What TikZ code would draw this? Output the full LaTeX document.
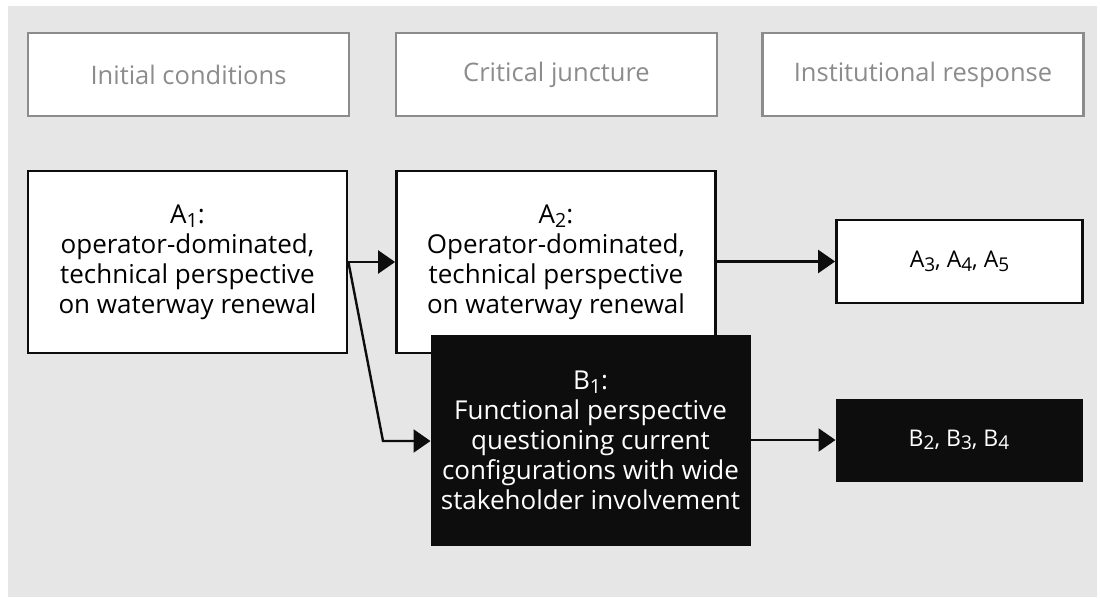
\documentclass[tikz,border=0pt]{standalone}
\usepackage{fontspec}
\setmainfont{Open Sans}
\usetikzlibrary{arrows.meta}
\definecolor{panel}{HTML}{E6E6E6}
\definecolor{hdrgray}{HTML}{8C8C8C}
\definecolor{boxblack}{HTML}{0D0D0D}
\newcommand{\mysub}[1]{\raisebox{-0.3ex}{\fontsize{19.5}{19.5}\selectfont #1}}
\newcommand{\smsub}[1]{\raisebox{-0.3ex}{\fontsize{19}{19}\selectfont #1}}
\newcommand{\smtext}{\fontsize{23}{26}\selectfont}
\tikzset{
  hdr/.style={draw=hdrgray, line width=2.4pt, fill=white, text=hdrgray, minimum width=321pt, minimum height=83pt, inner sep=0pt, font=\fontsize{25.5}{30}\selectfont},
  wbox/.style={draw=boxblack, line width=2.8pt, fill=white, text=black, inner sep=0pt, align=center, font=\fontsize{26}{30}\selectfont},
  bbox/.style={draw=boxblack, line width=1pt, fill=boxblack, text=white, inner sep=0pt, align=center, font=\fontsize{26}{30}\selectfont},
  arr/.style={line width=2.4pt, draw=boxblack, -{Triangle[length=17pt,width=23pt]}}
}
\begin{document}
\begin{tikzpicture}[x=1pt,y=-1pt]
\useasboundingbox (0,0) rectangle (1100,597);
\fill[white] (0,0) rectangle (1100,597);
\fill[panel] (8,6) rectangle (1097,597);
\node[hdr] (h1) at (188.5,74.5) {Initial conditions};
\node[hdr] (h2) at (556.5,74.5) {Critical juncture};
\node[hdr] (h3) at (923,74.5) {Institutional response};
\node[wbox, minimum width=319pt, minimum height=182pt] (A1) at (187.5,262) {A\mysub{1}:\\operator-dominated,\\technical perspective\\on waterway renewal};
\node[wbox, minimum width=319pt, minimum height=182pt] (A2) at (556,262) {A\mysub{2}:\\Operator-dominated,\\technical perspective\\on waterway renewal};
\node[bbox, minimum width=319pt, minimum height=210pt] (B1) at (590.5,440) {B\mysub{1}:\\Functional perspective\\questioning current\\configurations with wide\\stakeholder involvement};
\node[wbox, minimum width=246pt, minimum height=83pt] (A3) at (959.5,261.5) {\smtext A\smsub{3}, A\smsub{4}, A\smsub{5}};
\node[bbox, minimum width=246pt, minimum height=82pt] (B2) at (959,440) {\smtext B\smsub{2}, B\smsub{3}, B\smsub{4}};
\coordinate (bend) at (383,441);
\draw[arr] (A1.east) -- (A2.west);
\draw[arr] (A1.east) -- (bend) -- (B1.west |- bend);
\draw[arr] (A2.east |- A3.west) -- (A3.west);
\draw[arr] (B1.east |- B2.west) -- (B2.west);
\end{tikzpicture}
\end{document}
